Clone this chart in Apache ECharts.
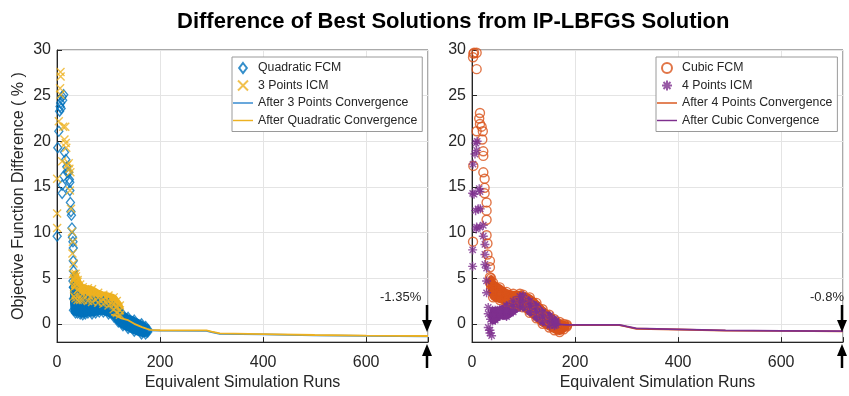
<!DOCTYPE html>
<html><head><meta charset="utf-8">
<script src="https://cdn.jsdelivr.net/npm/echarts@6/dist/echarts.min.js"></script>
<style>html,body{margin:0;padding:0;background:#fff}#c{width:849px;height:396px}</style>
</head><body><div id="c"></div>
<script>
// ---------- tick labels ----------
const xTickLabels = [0, 200, 400, 600];
const yTickLabels = [0, 5, 10, 15, 20, 25, 30];

// ---------- LEFT PANEL ----------
// Quadratic FCM (sparse markers)
const quadFCM = [[0.3,9.6],[1.5,19.3],[3.5,21.1],[5,23.3],[6,23.8],[7,24.2],[8,23.6],[10,24.9],[13,25.1],[11,24.5],
  [10,15.2],[10,14.3],[13,16.2],[14.5,18.8],[17,18],[19,17.2],[20,16.6],[22.8,16.6],[24,15.8],[24.8,15.5],[25,14.6],
  [26,13.3],[27,12.3],[28,11.9],[29,10.5],[30,9.5],[31,9.0],[31.6,8.3],[31.6,6.9],[32,5.8],[31,4.7],[32,4.0]];
// 3 Points ICM (sparse markers)
const icm3 = [[6.8,27.6],[7,27.1],[6,25.8],[7,25.1],[3.5,22.2],[12,21.6],[16,21.6],[14.5,20.2],[17,19.8],[18,19.3],
  [0.3,15.9],[0.3,12.1],[0.3,10.5],[10,17.8],[19.7,17.4],[22.8,17.6],[24,17],[26,16.6],[25,14.6],[27.2,12.6],
  [29,10.1],[31,9],[30,7.7],[32,6.6],[31,5.5],[33,4.8],[35,4.5],[37,5.2],[40,4.6]];
// dense band of Quadratic FCM
const quadBandX  = [32, 36, 40, 45, 50, 55, 60, 68, 75, 82, 90, 100, 110, 119, 128, 138, 150, 164, 172, 176];
const quadBandLo = [1.5,1.2,1.2,1.1,1.0,1.1,1.2,1.1,1.2,1.3,1.3,1.1,0.8,0.2,-0.2,-0.5,-0.8,-1.1,-1.1,-0.9];
const quadBandHi = [4.0,3.4,3.0,2.8,2.6,2.6,2.5,2.5,2.4,2.3,2.4,2.2,1.8,1.4,1.0,0.7,0.4,0.0,-0.3,-0.6];
// dense band of 3 Points ICM
const icm3BandX  = [33, 36, 40, 45, 50, 60, 68, 80, 90, 100, 110, 116, 122];
const icm3BandLo = [3.0,2.8,2.6,2.6,2.6,2.5,2.4,2.3,2.2,2.0,1.6,1.2,1.0];
const icm3BandHi = [5.0,5.5,4.8,4.3,4.0,3.9,3.8,3.4,3.2,3.1,2.9,2.5,2.0];
// convergence lines
const after3Pts = [[176,-0.7],[200,-0.74],[290,-0.76],[300,-0.9],[316,-1.1],[400,-1.16],[500,-1.26],[600,-1.32],[720,-1.36]];
const afterQuad = [[105,1.0],[115,0.9],[125,0.6],[138,0.4],[150,0.0],[165,-0.36],[175,-0.55],[181,-0.65],[200,-0.7],
  [290,-0.72],[300,-0.85],[316,-1.05],[400,-1.12],[500,-1.22],[600,-1.28],[720,-1.33]];

// ---------- RIGHT PANEL ----------
const cubicFCM = [[2.6,29.6],[4,29.7],[9,29.7],[2,29.2],[9,27.9],[2.6,17.3],[2,9.0],[15.5,23.1],[14,22.5],[15.5,21.9],
  [18.7,21.6],[9,21.1],[21,21.1],[20,20.2],[21.9,18.9],[21.9,18.4],[22,16.6],[24.5,15.9],[24.5,14.9],[24.5,14.3],
  [28.3,13.3],[28.3,12.4],[28.3,11.4],[28.3,9.7],[30,8.8],[30,7.6],[34.8,6.9],[34.8,6.2],[34.8,5.1],[34.8,4.5],[37,4.2]];
const icm4 = [[1.3,6.3],[1.3,8.1],[1.3,14.3],[2,17.5],[5.8,18.6],[7.7,19.8],[10,20],[9,19],[14,14.8],[15.5,14.5],
  [12,12.6],[16,12.6],[9,10.6],[15.5,10.6],[21.9,10.8],[21.9,9.6],[25.1,8.7],[25.1,7.6],[25.1,6.5],[28.3,6.1],
  [28.3,4.7],[28.3,3.4],[31.5,1.8],[31.5,1.1],[31.5,-0.4],[34.8,-0.7],[38,-1.3],[34.8,-1.0],[36,0.5],[38,1.0],
  [4,14.2],[7,12.4],[8,10.4]];
const cubicBandX  = [37, 41, 54, 67, 80, 93, 99, 112, 125, 137, 150, 160, 170, 178, 184];
const cubicBandLo = [3.8,2.9,2.6,2.4,2.2,2.0,1.8,1.2,0.6,0.0,-0.4,-0.7,-0.9,-0.6,-0.3];
const cubicBandHi = [5.0,4.5,4.0,3.5,3.3,3.3,3.2,2.9,2.3,1.6,1.0,0.5,0.2,0.0,-0.1];
const icm4BandX  = [40, 45, 54, 67, 80, 93, 99, 112, 125, 137, 151, 160, 163];
const icm4BandLo = [0.3,0.4,0.8,0.8,1.3,1.8,1.8,1.3,0.7,0.2,-0.2,-0.2,-0.1];
const icm4BandHi = [1.5,1.5,1.6,2.0,2.5,3.0,3.1,2.5,2.0,1.3,0.9,0.5,0.3];
const after4Pts = [[183,-0.2],[200,-0.15],[286,-0.15],[300,-0.3],[319,-0.54],[400,-0.62],[492,-0.74],[600,-0.78],[720,-0.82]];
const afterCubic = [[160,0.0],[170,-0.05],[183,-0.12],[200,-0.11],[286,-0.11],[300,-0.28],[319,-0.5],[400,-0.6],[492,-0.72],[600,-0.76],[720,-0.8]];

// ---------- styling ----------
const C = {blue:'#0072BD', yellow:'#EDB120', orange:'#D95319', purple:'#7E2F8E', lblue:'#2e86cf'};
const FONT = 'Liberation Sans, Arial, Helvetica, sans-serif';
const TXT = '#262626';
const SYM_X = 'path://M0,0L10,10M10,0L0,10';
const SYM_AST = 'path://M5,0L5,10M0,5L10,5M1.5,1.5L8.5,8.5M8.5,1.5L1.5,8.5';
const SYM_DIAMOND = 'path://M5,0L10,6.5L5,13L0,6.5Z';
const ICON_LINE = 'path://M0,0L25,0L25,1.8L0,1.8Z';

function bandPoints(xs, lo, hi){ return xs.map((x,i)=>[x, lo[i], hi[i]]); }
function edgePoints(xs, lo, hi){
  const a = [];
  xs.forEach((x,i)=>{ a.push([x, lo[i]]); a.push([x, hi[i]]); a.push([x, (lo[i]+hi[i])/2]); });
  return a;
}
function bandSeries(name, idx, xs, lo, hi, color){
  return {
    name: name, type:'custom', xAxisIndex: idx, yAxisIndex: idx, silent:true,
    data: bandPoints(xs, lo, hi), encode:{x:0, y:[1,2]}, clip:true,
    renderItem: function(params, api){
      if (params.dataIndex !== 0) return null;
      const pts = [];
      for (let i=0;i<xs.length;i++) pts.push(api.coord([xs[i], hi[i]]));
      for (let i=xs.length-1;i>=0;i--) pts.push(api.coord([xs[i], lo[i]]));
      return {type:'polygon', shape:{points:pts, smooth:0.3}, style:{fill:color, stroke:color, lineWidth:6, lineJoin:'round'}};
    }
  };
}
function scatter(name, idx, data, symbol, size, color){
  return {name, type:'scatter', xAxisIndex:idx, yAxisIndex:idx, data, symbol, symbolSize:size,
    itemStyle:{color:'rgba(255,255,255,0)', borderColor:color, borderWidth:1.4}, emphasis:{disabled:true}};
}
function line(name, idx, data, color){
  return {name, type:'line', xAxisIndex:idx, yAxisIndex:idx, data, symbol:'none', showSymbol:false,
    lineStyle:{color, width:1.8}, itemStyle:{color}, emphasis:{disabled:true}};
}

function xAxis(idx){
  return {type:'value', gridIndex:idx, min:0, max:720, interval:200,
    name:'Equivalent Simulation Runs', nameLocation:'middle', nameGap:29,
    nameTextStyle:{fontSize:16, color:TXT, fontFamily:FONT},
    axisLine:{show:true, onZero:false, lineStyle:{color:TXT, width:1}},
    axisTick:{show:true, inside:true, length:5, lineStyle:{color:TXT}},
    axisLabel:{fontSize:16, color:TXT, fontFamily:FONT, margin:12,
      formatter: v => xTickLabels.indexOf(v) >= 0 ? String(v) : ''},
    splitLine:{show:true, lineStyle:{color:'#e4e4e4', width:1}}};
}
function yAxis(idx, withName){
  const a = {type:'value', gridIndex:idx, min:-2, max:30, splitNumber:6,
    axisLine:{show:true, onZero:false, lineStyle:{color:TXT, width:1}},
    axisTick:{show:true, inside:true, length:5, lineStyle:{color:TXT}},
    axisLabel:{fontSize:16, color:TXT, fontFamily:FONT, margin:6,
      formatter: v => yTickLabels.indexOf(v) >= 0 ? String(v) : ''},
    splitLine:{show:true, lineStyle:{color:'#e4e4e4', width:1}}};
  if (withName){
    a.name = 'Objective Function Difference ( % )';
    a.nameLocation = 'middle'; a.nameGap = 30;
    a.nameTextStyle = {fontSize:16, color:TXT, fontFamily:FONT};
  }
  return a;
}
function legend(left, names, icons){
  return {left, top:57, orient:'vertical', itemWidth:20, itemHeight:10, itemGap:5.5,
    padding:[5,5,5,1], borderColor:'#9a9a9a', borderWidth:1, backgroundColor:'#fff',
    textStyle:{fontSize:12.3, color:TXT, fontFamily:FONT},
    data: names.map((n,i)=> ({name:n, icon:icons[i]})),
    selectedMode:false};
}

function arrows(x){
  return [
    {type:'line', shape:{x1:x, y1:305, x2:x, y2:322}, style:{stroke:'#000', lineWidth:2.5}, z:100},
    {type:'polygon', shape:{points:[[x-5,320],[x+5,320],[x,332]]}, style:{fill:'#000'}, z:100},
    {type:'line', shape:{x1:x, y1:368, x2:x, y2:354}, style:{stroke:'#000', lineWidth:2.5}, z:100},
    {type:'polygon', shape:{points:[[x-5,356],[x+5,356],[x,344]]}, style:{fill:'#000'}, z:100}
  ];
}

const chart = echarts.init(document.getElementById('c'), null, {renderer:'canvas'});
chart.setOption({
  animation:false,
  backgroundColor:'#fff',
  title:{text:'Difference of Best Solutions from IP-LBFGS Solution', left:172, top:6,
    textStyle:{fontSize:22, fontWeight:'bold', color:'#000', fontFamily:FONT}},
  grid:[
    {left:57, top:50, width:371, height:298, show:true, borderColor:'#555', borderWidth:1, backgroundColor:'transparent'},
    {left:472, top:50, width:371, height:298, show:true, borderColor:'#555', borderWidth:1, backgroundColor:'transparent'}
  ],
  xAxis:[xAxis(0), xAxis(1)],
  yAxis:[yAxis(0,true), yAxis(1,false)],
  legend:[
    legend(232, ['Quadratic FCM','3 Points ICM','After 3 Points Convergence','After Quadratic Convergence'], [SYM_DIAMOND, SYM_X, ICON_LINE, ICON_LINE]),
    legend(656, ['Cubic FCM','4 Points ICM','After 4 Points Convergence','After Cubic Convergence'], ['circle', SYM_AST, ICON_LINE, ICON_LINE])
  ],
  series:[
    bandSeries('qb', 0, quadBandX, quadBandLo, quadBandHi, C.blue),
    scatter('Quadratic FCM', 0, quadFCM.concat(edgePoints(quadBandX, quadBandLo, quadBandHi)), 'diamond', [8,10], C.blue),
    bandSeries('ib', 0, icm3BandX, icm3BandLo, icm3BandHi, C.yellow),
    scatter('3 Points ICM', 0, icm3.concat(edgePoints(icm3BandX, icm3BandLo, icm3BandHi)), SYM_X, 8, C.yellow),
    line('After 3 Points Convergence', 0, after3Pts, C.lblue),
    line('After Quadratic Convergence', 0, afterQuad, C.yellow),

    bandSeries('cb', 1, cubicBandX, cubicBandLo, cubicBandHi, C.orange),
    scatter('Cubic FCM', 1, cubicFCM.concat(edgePoints(cubicBandX, cubicBandLo, cubicBandHi)), 'circle', 9, C.orange),
    bandSeries('i4b', 1, icm4BandX, icm4BandLo, icm4BandHi, C.purple),
    scatter('4 Points ICM', 1, icm4.concat(edgePoints(icm4BandX, icm4BandLo, icm4BandHi)), SYM_AST, 9, C.purple),
    line('After 4 Points Convergence', 1, after4Pts, C.orange),
    line('After Cubic Convergence', 1, afterCubic, C.purple)
  ],
  graphic:[
    {type:'text', left:380, top:291, style:{text:'-1.35%', fontSize:13, fill:TXT, fontFamily:FONT}, z:100},
    {type:'text', left:810, top:291, style:{text:'-0.8%', fontSize:13, fill:TXT, fontFamily:FONT}, z:100}
  ].concat(arrows(427), arrows(842))
});
</script></body></html>
